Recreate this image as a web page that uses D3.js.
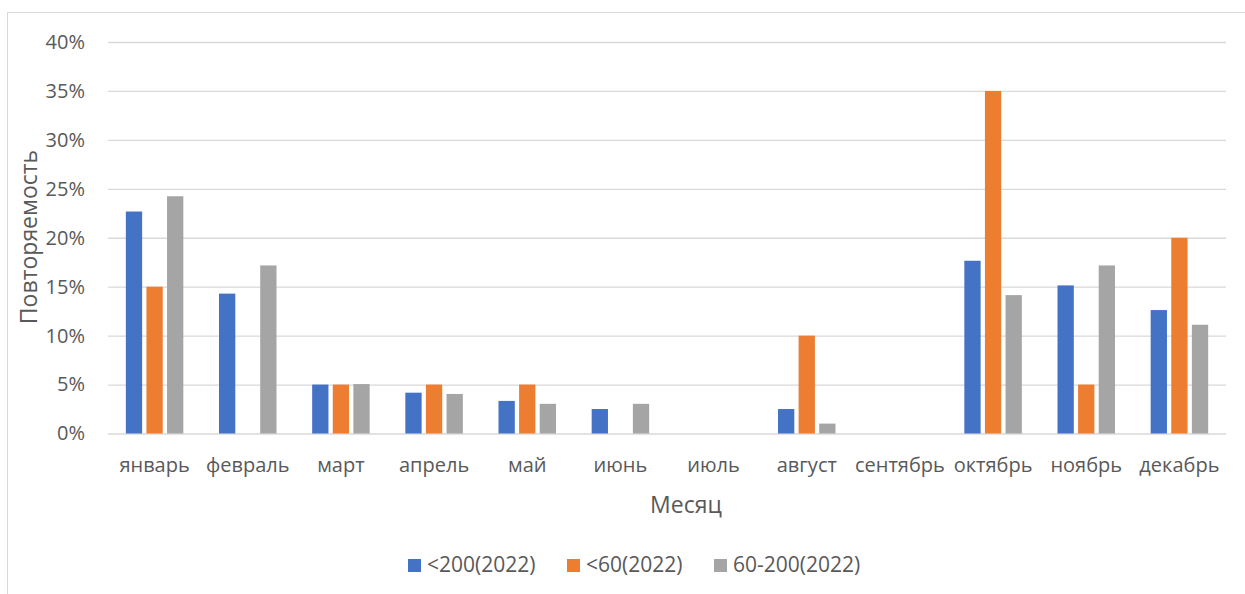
<!DOCTYPE html>
<html>
<head>
<meta charset="utf-8">
<script src="https://cdn.jsdelivr.net/npm/d3@7"></script>
<style>
  html, body { margin: 0; padding: 0; background: #fff; }
  svg { display: block; font-family: "Open Sans", "Noto Sans", sans-serif; }
</style>
</head>
<body>
<svg id="chart" width="1245" height="594"></svg>
<script>
// Months and the three recurrence series (fractions)
const months = ["январь", "февраль", "март", "апрель", "май", "июнь", "июль", "август", "сентябрь", "октябрь", "ноябрь", "декабрь"];
const seriesNames = ["<200(2022)", "<60(2022)", "60-200(2022)"];
const under200 = [0.2268, 0.1429, 0.05, 0.0417, 0.0333, 0.025, 0, 0.025, 0, 0.1765, 0.1513, 0.1261];
const under60 = [0.15, 0, 0.05, 0.05, 0.05, 0, 0, 0.10, 0, 0.35, 0.05, 0.20];
const from60to200 = [0.2424, 0.1717, 0.0505, 0.0404, 0.0303, 0.0303, 0, 0.0101, 0, 0.1414, 0.1717, 0.1111];
const yTicks = [0, 0.05, 0.10, 0.15, 0.20, 0.25, 0.30, 0.35, 0.40];
const colors = ["#4472C4", "#ED7D31", "#A5A5A5"];

const series = [under200, under60, from60to200];

const svg = d3.select("#chart");
const margin = { left: 108, right: 1226, top: 42, bottom: 433.5 };
const textColor = "#595959";

// Chart frame
svg.append("rect")
  .attr("x", 7.5).attr("y", 12.5)
  .attr("width", 1300).attr("height", 700)
  .attr("fill", "none").attr("stroke", "#d9d9d9").attr("stroke-width", 1);

const x = d3.scaleBand().domain(months).range([margin.left, margin.right]).paddingInner(0).paddingOuter(0);
const y = d3.scaleLinear().domain([0, 0.40]).range([margin.bottom, margin.top]);

// Gridlines and percent labels
const yAxis = d3.axisLeft(y).tickValues(yTicks).tickFormat(d3.format(".0%"))
  .tickSize(-(margin.right - margin.left)).tickPadding(23);
const gy = svg.append("g").attr("transform", `translate(${margin.left},0)`).call(yAxis);
gy.select(".domain").remove();
gy.selectAll(".tick line").attr("stroke", "#d9d9d9").attr("stroke-width", 1.3);
gy.selectAll(".tick text").attr("fill", textColor).attr("font-size", 20).attr("font-family", "Open Sans");

// Grouped bars: gap width ~219%, overlap ~ -27%
const bw = x.bandwidth();
const barW = 16.3;
const step = 20.6;
const groupOffset = (bw - (step * 2 + barW)) / 2;

series.forEach((vals, si) => {
  svg.append("g").selectAll("rect")
    .data(vals)
    .join("rect")
    .attr("x", (d, i) => x(months[i]) + groupOffset + si * step)
    .attr("y", d => y(d))
    .attr("width", barW)
    .attr("height", d => y(0) - y(d))
    .attr("fill", colors[si]);
});

// Month labels
const xAxis = d3.axisBottom(x).tickSize(0).tickPadding(24);
const gx = svg.append("g").attr("transform", `translate(0,${margin.bottom})`).call(xAxis);
gx.select(".domain").remove();
gx.selectAll(".tick text").attr("fill", textColor).attr("font-size", 20).attr("font-family", "Open Sans");

// Axis titles
svg.append("text")
  .attr("x", 686).attr("y", 513)
  .attr("text-anchor", "middle").attr("fill", textColor)
  .attr("font-size", 23).text("Месяц");

svg.append("text")
  .attr("transform", "translate(37,237) rotate(-90)")
  .attr("text-anchor", "middle").attr("fill", textColor)
  .attr("font-size", 23).text("Повторяемость");

// Legend
const legendX = [408, 567, 714];
const leg = svg.append("g");
seriesNames.forEach((name, i) => {
  leg.append("rect").attr("x", legendX[i]).attr("y", 559).attr("width", 13).attr("height", 13).attr("fill", colors[i]);
  leg.append("text").attr("x", legendX[i] + 19).attr("y", 572)
    .attr("fill", textColor).attr("font-size", 21).text(name);
});
</script>
</body>
</html>
